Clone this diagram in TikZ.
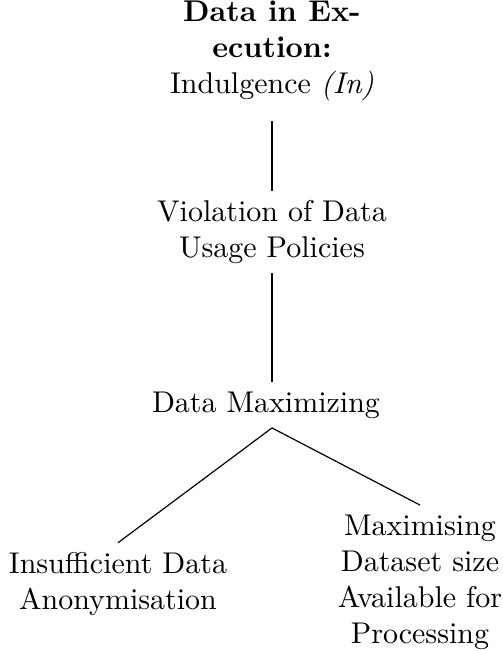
\documentclass[tikz,border=0pt]{standalone}
\begin{document}
\begin{tikzpicture}[x=0.3333pt,y=-0.3333pt,
  lbl/.style={align=center, inner sep=3pt},
  edge/.style={draw=black, line width=0.4pt}]
\useasboundingbox (0,0) rectangle (503,651);
\node[lbl] (top) at (272,51) {\textbf{Data in Ex-}\\\textbf{ecution:}\\Indulgence \textit{(In)}};
\node[lbl] (viol) at (272,232) {Violation of Data\\Usage Policies};
\node[lbl] (dm) at (266,405) {Data Maximizing};
\node[lbl] (ins) at (118,584) {Insufficient Data\\Anonymisation};
\node[lbl] (mx) at (420,582) {Maximising\\Dataset size\\Available for\\Processing};
\coordinate (dmtop) at (viol.south |- dm.north);
\coordinate (dmbot) at (viol.south |- dm.south);
\draw[edge, shorten <=3.5pt] (top.south) -- (viol.north);
\draw[edge] (viol.south) -- (dmtop);
\draw[edge] (dmbot) -- (ins.north);
\draw[edge] (dmbot) -- (mx.north);
\end{tikzpicture}
\end{document}
